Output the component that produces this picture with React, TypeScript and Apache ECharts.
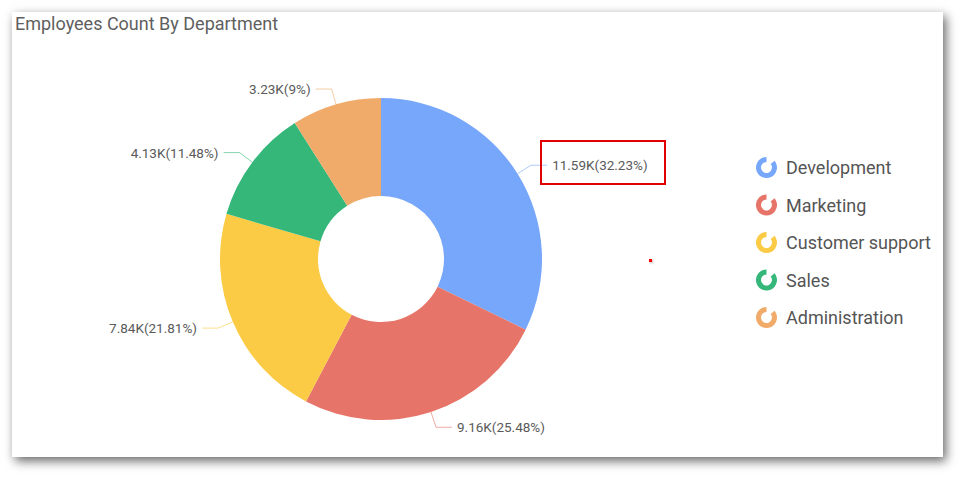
import React, { useEffect, useRef } from "react";
import * as echarts from "echarts";

const titleText = "Employees Count By Department";
const departments = ["Development", "Marketing", "Customer support", "Sales", "Administration"];
const employees = [11587, 9160, 7841, 4127, 3234];
const colors = ["#77A7FA", "#E67468", "#FCCB45", "#35B77A", "#F0AB6A"];

const ICON =
  "path://M17.66,3.572 A10,10 0 1 1 10,0 L10,4.8 A5.2,5.2 0 1 0 13.98,6.657 Z";

export default function App() {
  const ref = useRef<HTMLDivElement>(null);
  useEffect(() => {
    if (!ref.current) return;
    const chart = echarts.init(ref.current, null, { renderer: "svg" });
    const data = departments.map((name, i) => ({
      name,
      value: employees[i],
      itemStyle: { color: colors[i] },
    }));
    chart.setOption({
      animation: false,
      title: {
        text: titleText,
        left: 3,
        top: 2,
        padding: 0,
        textStyle: {
          fontFamily: "Roboto",
          fontSize: 18,
          fontWeight: "normal",
          color: "#5f5f5f",
        },
      },
      legend: {
        orient: "vertical",
        left: 739,
        top: 140,
        itemWidth: 21,
        itemHeight: 21,
        itemGap: 16.5,
        icon: ICON,
        data: departments,
        textStyle: {
          fontFamily: "Roboto",
          fontSize: 18,
          color: "#555",
          padding: [0, 0, 0, 4],
        },
      },
      series: [
        {
          type: "pie",
          center: [369, 247],
          radius: [63, 161],
          startAngle: 90,
          clockwise: true,
          data,
          label: {
            show: true,
            position: "outside",
            fontFamily: "Roboto",
            fontSize: 13.5,
            color: "#5a5a5a",
            distanceToLabelLine: 5,
            formatter: (p: any) => (p.value / 1000).toFixed(2) + "K(" + p.percent + "%)",
          },
          labelLine: {
            show: true,
            length: 16,
            length2: 16,
            lineStyle: { width: 1, opacity: 0.6 },
          },
          emphasis: { disabled: true },
        },
      ],
      graphic: [
        {
          type: "rect",
          shape: { x: 529, y: 129, width: 124, height: 43 },
          style: { fill: "none", stroke: "#E00000", lineWidth: 2 },
          z: 100,
        },
        {
          type: "rect",
          shape: { x: 637, y: 247, width: 3, height: 3 },
          style: { fill: "#ff0000", shadowColor: "rgba(0,0,0,0.3)", shadowBlur: 2, shadowOffsetX: 1, shadowOffsetY: 1 },
          z: 100,
        },
      ],
    });
    return () => chart.dispose();
  }, []);

  return (
    <div
      style={{
        position: "absolute",
        left: 0,
        top: 0,
        width: 963,
        height: 477,
        background: "#fff",
        overflow: "hidden",
      }}
    >
      <div
        style={{
          position: "absolute",
          left: 12,
          top: 12,
          width: 931,
          height: 445,
          background: "#fff",
          boxShadow: "3px 4px 10px rgba(0,0,0,0.6)",
        }}
      >
        <div ref={ref} style={{ width: 931, height: 445 }} />
      </div>
    </div>
  );
}
